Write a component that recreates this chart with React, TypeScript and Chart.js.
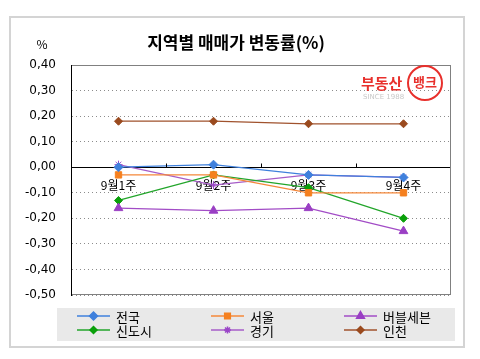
import React, { useEffect, useRef } from "react";
import { Chart, registerables } from "chart.js";
import { drawPoint } from "chart.js/helpers";

Chart.register(...registerables);

const categories = ["9월1주", "9월2주", "9월3주", "9월4주"];
const jeonguk = [0.0, 0.01, -0.03, -0.04];
const seoul = [-0.03, -0.03, -0.1, -0.1];
const bubbleSeven = [-0.16, -0.17, -0.16, -0.25];
const sindosi = [-0.13, -0.03, -0.08, -0.2];
const gyeonggi = [0.01, -0.07, -0.03, -0.04];
const incheon = [0.18, 0.18, 0.17, 0.17];

const seriesNames = ["전국", "서울", "버블세븐", "신도시", "경기", "인천"];
const yMin = -0.5;
const yMax = 0.4;
const yStep = 0.1;

const KFONT = "'Noto Sans CJK KR', 'DejaVu Sans', sans-serif";

const decorPlugin = {
  id: "decor",
  beforeDraw(chart: any) {
    const ctx = chart.ctx;
    ctx.save();
    ctx.fillStyle = "#ffffff";
    ctx.fillRect(0, 0, chart.width, chart.height);
    ctx.strokeStyle = "#d4d4d4";
    ctx.lineWidth = 2;
    ctx.strokeRect(10, 17, 454, 330);
    // legend background
    ctx.fillStyle = "#e9e9e9";
    ctx.fillRect(57, 308, 398, 33);
    ctx.restore();
  },
  afterDraw(chart: any) {
    const ctx = chart.ctx;
    const area = chart.chartArea;
    ctx.save();
    // plot border
    ctx.strokeStyle = "#808080";
    ctx.lineWidth = 1;
    ctx.strokeRect(area.left + 0.5, area.top + 0.5, area.right - area.left - 1, area.bottom - area.top - 1);
    ctx.strokeStyle = "#000000";
    ctx.beginPath();
    ctx.moveTo(area.left + 0.5, area.top);
    ctx.lineTo(area.left + 0.5, area.bottom);
    ctx.stroke();
    // tick marks between categories on zero line
    const xs = chart.scales.x;
    const ys = chart.scales.y;
    const y0 = Math.round(ys.getPixelForValue(0)) + 0.5;
    for (let i = 0; i < categories.length - 1; i++) {
      const x = Math.round((xs.getPixelForValue(i) + xs.getPixelForValue(i + 1)) / 2) + 0.5;
      ctx.beginPath();
      ctx.moveTo(x, y0);
      ctx.lineTo(x, y0 - 4);
      ctx.stroke();
    }
    // title
    ctx.fillStyle = "#000";
    ctx.textAlign = "center";
    ctx.textBaseline = "middle";
    ctx.font = `bold 17px ${KFONT}`;
    ctx.fillText("지역별 매매가 변동률(%)", 236, 43);
    ctx.font = `12px ${KFONT}`;
    ctx.fillText("%", 42, 44);
    // logo
    ctx.fillStyle = "#e8302c";
    ctx.textAlign = "left";
    ctx.font = `bold 15px ${KFONT}`;
    ctx.fillText("부동산", 361, 83);
    ctx.strokeStyle = "#e8302c";
    ctx.lineWidth = 2;
    ctx.beginPath();
    ctx.arc(425, 83, 17, 0, Math.PI * 2);
    ctx.stroke();
    ctx.textAlign = "center";
    ctx.font = `bold 13px ${KFONT}`;
    ctx.fillText("뱅크", 425, 82);
    ctx.fillStyle = "#c8c8c8";
    ctx.font = `7px 'DejaVu Sans', sans-serif`;
    ctx.textAlign = "left";
    ctx.fillText("SINCE 1988", 363, 97);
    // legend
    const colX = [77, 211, 344];
    const rowY = [316, 330];
    chart.data.datasets.forEach((ds: any, i: number) => {
      const cx = colX[i % 3];
      const cy = rowY[Math.floor(i / 3)];
      ctx.strokeStyle = ds.borderColor;
      ctx.lineWidth = 1.5;
      ctx.beginPath();
      ctx.moveTo(cx, cy);
      ctx.lineTo(cx + 33, cy);
      ctx.stroke();
      ctx.fillStyle = ds.pointBackgroundColor;
      ctx.strokeStyle = ds.pointBorderColor;
      drawPoint(ctx, { pointStyle: ds.pointStyle, radius: ds.pointRadius - 0.5, rotation: 0, borderWidth: 1 }, cx + 16.5, cy);
      ctx.fillStyle = "#000";
      ctx.textAlign = "left";
      ctx.textBaseline = "middle";
      ctx.font = `13px ${KFONT}`;
      ctx.fillText(ds.label, cx + 39, cy + 1);
    });
    ctx.restore();
  },
};

function ds(label: string, data: number[], line: string, point: string, style: string, radius: number) {
  return {
    label,
    data,
    borderColor: line,
    backgroundColor: point,
    pointBackgroundColor: point,
    pointBorderColor: point,
    pointStyle: style,
    pointRadius: radius,
    pointBorderWidth: 1,
    borderWidth: 1.3,
    tension: 0,
  };
}

export default function App() {
  const ref = useRef<HTMLCanvasElement>(null);
  useEffect(() => {
    if (!ref.current) return;
    const chart = new Chart(ref.current, {
      type: "line",
      data: {
        labels: categories,
        datasets: [
          ds(seriesNames[0], jeonguk, "#3f80dc", "#3f80dc", "rectRot", 4.5),
          ds(seriesNames[1], seoul, "#f5883a", "#f5801f", "rect", 4.5),
          ds(seriesNames[2], bubbleSeven, "#a24cc6", "#9a3fc4", "triangle", 5),
          ds(seriesNames[3], sindosi, "#22a52a", "#0aa00a", "rectRot", 4),
          ds(seriesNames[4], gyeonggi, "#a65cc8", "#9a45c8", "star", 4),
          ds(seriesNames[5], incheon, "#a0522d", "#9a4a1e", "rectRot", 4),
        ] as any,
      },
      options: {
        responsive: false,
        animation: false,
        layout: { padding: { top: 65, right: 29, bottom: 64, left: 0 } },
        plugins: {
          legend: { display: false },
          title: { display: false },
          tooltip: { enabled: false },
        },
        scales: {
          x: {
            type: "category",
            offset: true,
            position: { y: 0 } as any,
            grid: { display: false, drawTicks: false },
            border: { display: false },
            ticks: {
              color: "#000",
              font: { family: KFONT, size: 12 },
              padding: 11,
              maxRotation: 0,
            },
          },
          y: {
            min: yMin,
            max: yMax,
            afterFit: (scale: any) => {
              scale.width = 71;
            },
            ticks: {
              stepSize: yStep,
              color: "#000",
              padding: 15,
              font: { family: "'DejaVu Sans', sans-serif", size: 12 },
              callback: (v: any) => Number(v).toFixed(2).replace(".", ","),
            },
            grid: {
              drawTicks: false,
              color: (c: any) => (c.tick && Math.abs(c.tick.value) < 1e-9 ? "#000000" : "#8c8c8c"),
              lineWidth: 1,
            },
            border: {
              display: true,
              color: "#000",
              width: 1,
              dash: (c: any) => (c.tick && Math.abs(c.tick.value) > 1e-9 ? [1, 3] : []),
            } as any,
          },
        },
      },
      plugins: [decorPlugin],
    });
    return () => chart.destroy();
  }, []);
  return (
    <div style={{ position: "absolute", left: 0, top: 0, width: 480, height: 359 }}>
      <canvas ref={ref} width={480} height={359} />
    </div>
  );
}
